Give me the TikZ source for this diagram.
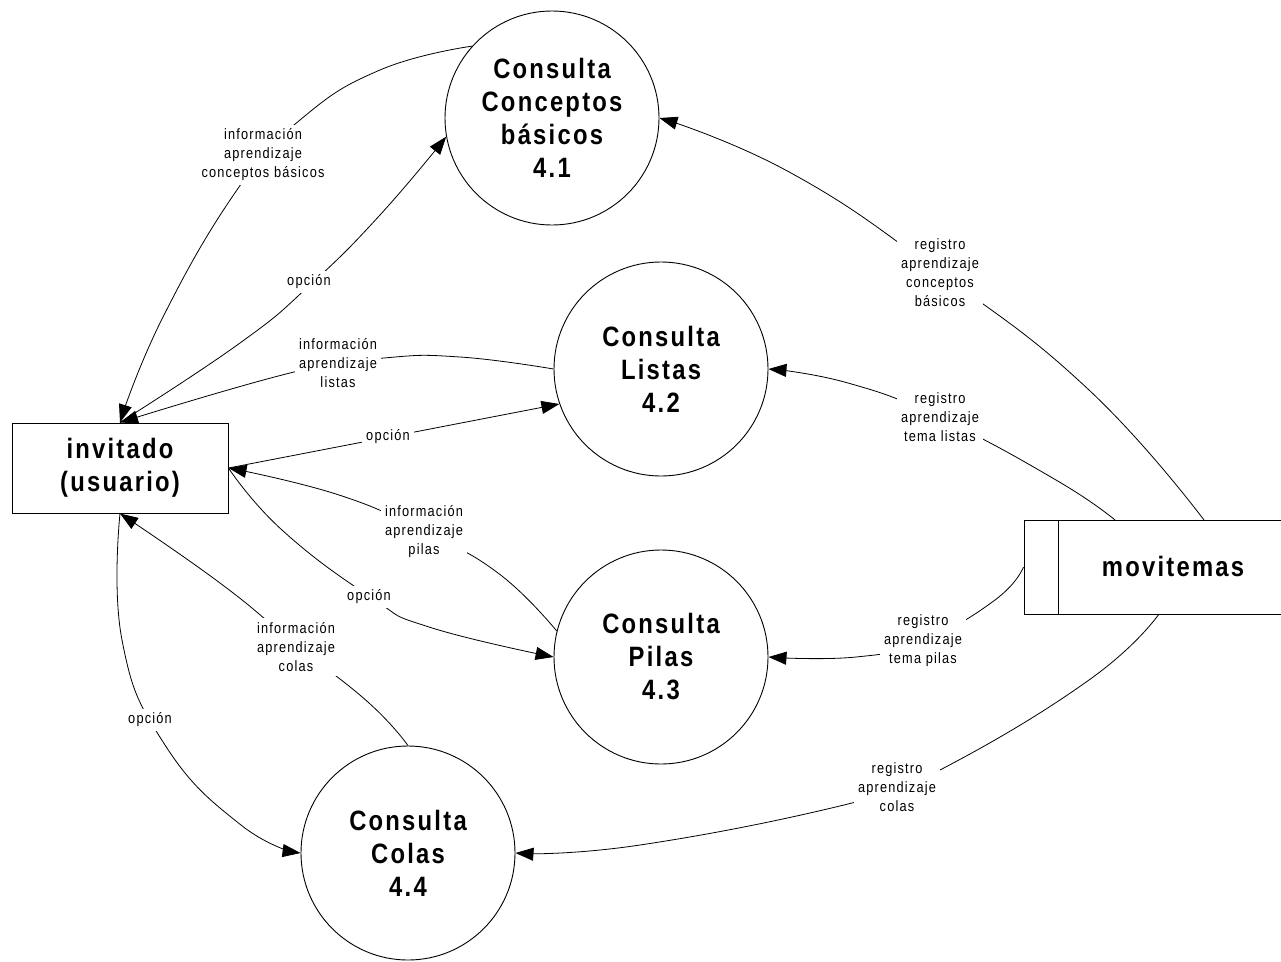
\documentclass[tikz,border=0pt]{standalone}
\usepackage{fontspec}
\setmainfont{Liberation Sans}
\newfontfamily\labelfont{Liberation Sans}[FakeStretch=0.85,LetterSpace=8]
\newfontfamily\titlefont{Liberation Sans}[FakeStretch=0.85,LetterSpace=8]
\usetikzlibrary{arrows.meta,calc}

\begin{document}
\begin{tikzpicture}[x=1pt,y=-1pt,
  title/.style={font=\titlefont\bfseries\fontsize{28}{33}\selectfont},
  proc/.style={draw,circle,line width=0.9pt,minimum size=214pt,inner sep=0pt,align=center,title},
  ent/.style={draw,line width=1pt,minimum width=216pt,minimum height=90pt,inner sep=0pt,align=center,title},
  store/.style={draw,line width=1pt,minimum width=262pt,minimum height=94pt,inner sep=0pt},
  flow/.style={line width=0.8pt,-{Triangle[length=18pt,width=13pt]}},
  lbl/.style={fill=white,inner sep=4pt,align=center,font=\labelfont\fontsize{15}{19}\selectfont}
]
\useasboundingbox (0,0) rectangle (1281,961);
\fill[white] (0,0) rectangle (1281,961);

% processes
\node[proc] (c1) at (552,118) {Consulta\\Conceptos\\básicos\\4.1};
\node[proc] (c2) at (661,369) {Consulta\\Listas\\4.2};
\node[proc] (c3) at (661,657) {Consulta\\Pilas\\4.3};
\node[proc] (c4) at (408,853) {Consulta\\Colas\\4.4};

% external entity
\node[ent] (inv) at (120,468) {invitado\\(usuario)};

% data store (open on the right)
\node[store] (mov) at (1155,567) {};
\draw[line width=1pt] ($(mov.north west)+(35,0)$) -- ($(mov.south west)+(35,0)$);
\node[title] (movtxt) at (1173,566) {movitemas};
\coordinate (m1) at (1204,520);
\coordinate (m2) at (1115,520);
\coordinate (m3) at (1159,614);

% flows between the user and the processes
\draw[flow] plot[smooth,tension=0.8] coordinates {(c1.138) (380,70) (300,120) (239,187) (163,317) (inv.north)};
\draw[flow] plot[smooth,tension=0.8] coordinates {(inv.north) (240,343) (310,285) (380,215) (c1.190)};
\draw[flow] plot[smooth,tension=0.8] coordinates {(c2.180) (460,357) (384,358) (294,372) (inv.north)};
\draw[flow] (inv.east) -- (c2.199);
\draw[flow] plot[smooth,tension=0.8] coordinates {(c3.166) (498,573) (424,532) (339,495) (inv.east)};
\draw[flow] plot[smooth,tension=0.8] coordinates {(inv.east) (282,530) (372,598) (429,627) (c3.180)};
\draw[flow] plot[smooth,tension=0.8] coordinates {(c4.90) (369,703) (296,645) (220,583) (inv.south)};
\draw[flow] plot[smooth,tension=0.8] coordinates {(inv.south) (122,640) (165,745) (241,825) (c4.180)};

% flows from the data store
\draw[flow] plot[smooth,tension=0.8] coordinates {(m1) (1089,390) (940,273) (791,173) (c1.0)};
\draw[flow] plot[smooth,tension=0.8] coordinates {(m2) (1056,480) (940,418) (848,383) (c2.0)};
\draw[flow] plot[smooth,tension=0.8] coordinates {(mov.west) (995,600) (923,641) (856,657) (c3.0)};
\draw[flow] plot[smooth,tension=0.8] coordinates {(m3) (1089,680) (940,770) (856,802) (640,845) (c4.0)};

% flow labels
\node[lbl] (l1) at (263,155) {información\\aprendizaje\\conceptos básicos};
\node[lbl] (l2) at (309,282) {opción};
\node[lbl] (l3) at (338,363) {información\\aprendizaje\\listas};
\node[lbl] (l4) at (388,437) {opción};
\node[lbl] (l5) at (424,532) {información\\aprendizaje\\pilas};
\node[lbl] (l6) at (369,597) {opción};
\node[lbl] (l7) at (296,647) {información\\aprendizaje\\colas};
\node[lbl] (l8) at (150,720) {opción};
\node[lbl] (l9) at (940,273) {registro\\aprendizaje\\conceptos\\básicos};
\node[lbl] (l10) at (940,417) {registro\\aprendizaje\\tema listas};
\node[lbl] (l11) at (923,641) {registro\\aprendizaje\\tema pilas};
\node[lbl] (l12) at (897,787) {registro\\aprendizaje\\colas};
\end{tikzpicture}
\end{document}
